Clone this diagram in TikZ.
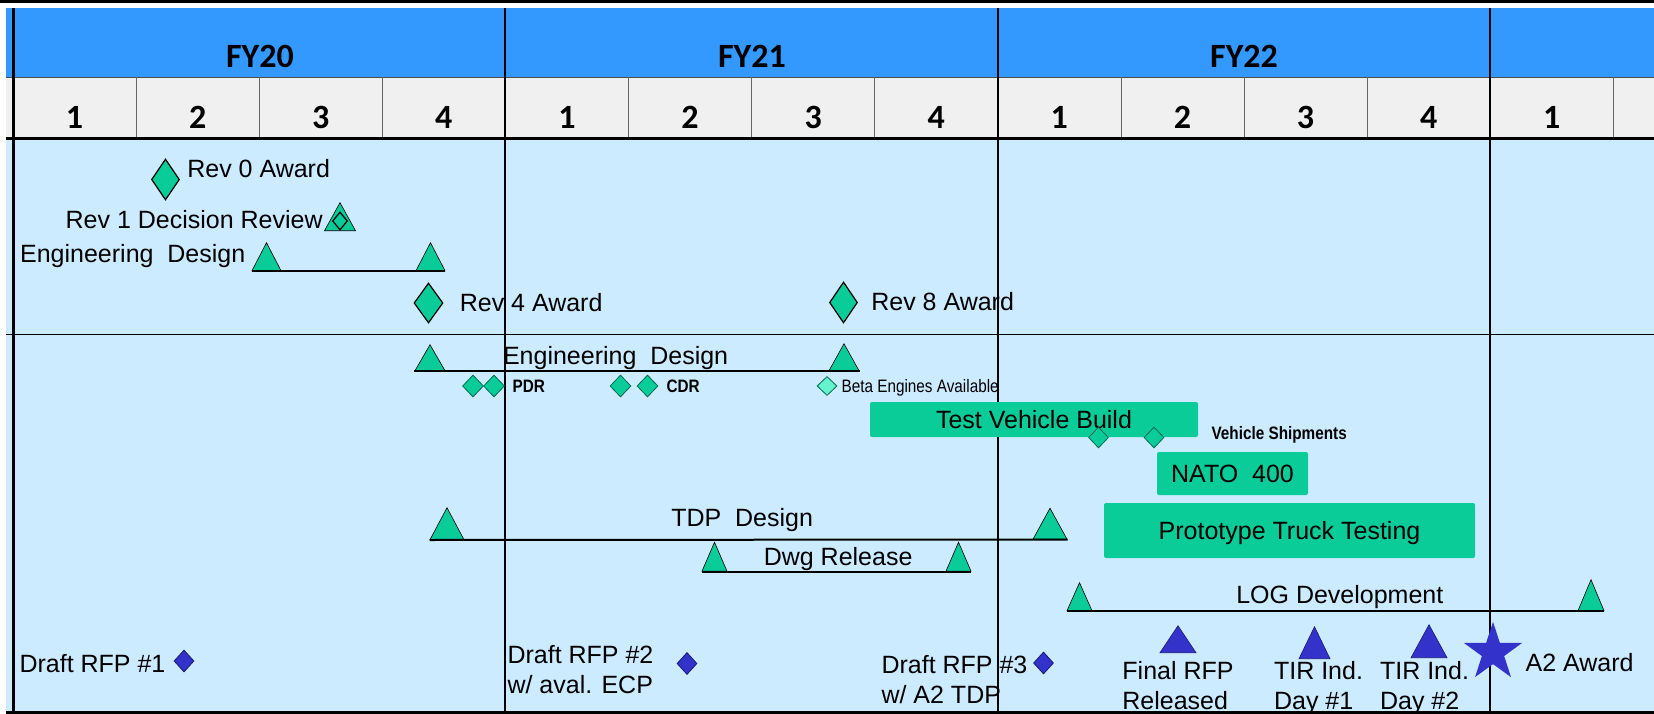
\documentclass[tikz,border=0pt]{standalone}
\usepackage{fontspec}
\setmainfont{Liberation Sans}
\newfontfamily\hdrfont{Carlito}
\newfontfamily\narrowfont[FakeStretch=0.85]{Liberation Sans}
\usetikzlibrary{positioning,shapes.geometric}
\definecolor{HdrClr}{rgb}{0.2,0.6,1}
\definecolor{QtrClr}{rgb}{0.94,0.94,0.94}
\definecolor{BodyClr}{rgb}{0.8,0.92,1}
\definecolor{MarkClr}{rgb}{0.04,0.8,0.6}
\definecolor{EdgeClr}{rgb}{0,0.42,0.32}
\definecolor{BetaClr}{rgb}{0.4,0.95,0.8}
\definecolor{BlueClr}{rgb}{0.2,0.2,0.8}
\definecolor{BlueEdge}{rgb}{0.1,0.1,0.45}

\tikzset{
  lbl/.style={font=\fontsize{25}{30}\selectfont,inner sep=0pt,text height=18pt,text depth=0pt},
  lbltwo/.style={font=\fontsize{25}{30}\selectfont,inner sep=0pt,align=left},
  smalltxt/.style={font=\narrowfont\fontsize{18}{20}\selectfont,inner sep=0pt,text height=13pt,text depth=0pt},
  smallbold/.style={smalltxt,font=\narrowfont\bfseries\fontsize{18}{20}\selectfont},
  hdr/.style={font=\hdrfont\bfseries\fontsize{34}{40}\selectfont,inner sep=0pt,text height=21.5pt,text depth=0pt},
  bigdia/.style={diamond,draw=black,line width=1.2pt,fill=MarkClr,inner sep=0pt,minimum width=28pt,minimum height=41pt},
  innerdia/.style={diamond,draw=black,line width=1.2pt,fill=MarkClr,inner sep=0pt,minimum width=15pt,minimum height=18pt},
  smalldia/.style={diamond,draw=EdgeClr,line width=0.8pt,fill=MarkClr,inner sep=0pt,minimum width=21pt,minimum height=22pt},
  betadia/.style={smalldia,fill=BetaClr,minimum width=20pt,minimum height=19pt},
  bluedia/.style={diamond,draw=BlueEdge,line width=0.8pt,fill=BlueClr,inner sep=0pt,minimum width=20pt,minimum height=22pt},
  tri/.style 2 args={isosceles triangle,isosceles triangle stretches,shape border rotate=90,minimum width=#1,minimum height=#2,draw=black,line width=0.6pt,fill=MarkClr,inner sep=0pt,anchor=lower side},
  bluetri/.style 2 args={tri={#1}{#2},fill=BlueClr,draw=BlueEdge},
  bar/.style 2 args={rectangle,fill=MarkClr,rounded corners=2pt,inner sep=0pt,minimum width=#1,minimum height=#2,font=\fontsize{25}{30}\selectfont,text height=18pt,text depth=0pt},
  conn/.style={line width=2pt,black}
}

\begin{document}
\begin{tikzpicture}[x=1pt,y=-1pt]
\useasboundingbox (0,0) rectangle (1654,714);

\fill[black] (0,0) rectangle (1654,3.5);
\fill[HdrClr] (6,8) rectangle (1654,77);
\fill[QtrClr] (6,77) rectangle (1654,139);
\fill[BodyClr] (6,139) rectangle (1654,712);
\draw[line width=0.8pt,black!70] (6,77) -- (1654,77);
\foreach \k in {1,2,3,5,6,7,9,10,11,13}
  \draw[line width=0.8pt,black!60] ({13+123.1*\k},77) -- ({13+123.1*\k},139);
\draw[line width=3pt] (6,139) -- (1654,139);
\draw[line width=1.5pt] (6,334.5) -- (1654,334.5);
\draw[line width=3pt] (13,8) -- (13,712);
\foreach \k in {4,8,12}
  \draw[line width=2pt] ({13+123.1*\k},8) -- ({13+123.1*\k},712);
\draw[line width=3pt] (6,712) -- (1654,712);

\node[hdr] (fy20) at (260,57) {FY20};
\node[hdr] (fy21) at (752,57) {FY21};
\node[hdr] (fy22) at (1244,57) {FY22};
\foreach \k/\q in {0/1,1/2,2/3,3/4,4/1,5/2,6/3,7/4,8/1,9/2,10/3,11/4,12/1}
  \node[hdr] (qtr\k) at ({13+123.1*(\k+0.5)},117.5) {\q};

\node[bigdia] (rev0) at (165.5,179.5) {};
\node[lbl,right=7pt of rev0,yshift=11pt] (rev0lbl) {Rev 0 Award};

\node[tri={31pt}{28pt}] (rev1t) at (340,231) {};
\node[innerdia] (rev1d) at (340,221) {};
\node[lbl,left=9pt of rev1d,yshift=1pt] (rev1lbl) {Rev 1 Decision Review};

\node[tri={29pt}{28pt}] (edA) at (266.5,271) {};
\node[tri={29pt}{28pt}] (edB) at (430.5,271) {};
\draw[conn] (edA.left corner) -- (edB.right corner);
\node[lbl,left=6pt of edA.left corner,yshift=17.5pt] (edlblA) {Engineering\ \ Design};

\node[bigdia,minimum width=29pt,minimum height=40pt] (rev4) at (428.5,303) {};
\node[lbl,right=16pt of rev4,yshift=0.5pt] (rev4lbl) {Rev 4 Award};
\node[bigdia] (rev8) at (843.5,302.5) {};
\node[lbl,right=13pt of rev8,yshift=1pt] (rev8lbl) {Rev 8 Award};

\node[tri={30pt}{26pt}] (edC) at (430,371) {};
\node[tri={30pt}{27pt}] (edD) at (844,371) {};
\draw[conn] (edC.left corner) -- node[lbl,pos=.452,above=5.5pt] (edlblB) {Engineering\ \ Design} (edD.right corner);

\node[smalldia] (pdrA) at (473,386) {};
\node[smalldia] (pdrB) at (494,386) {};
\node[smallbold,right=7.5pt of pdrB] (pdrlbl) {PDR};
\node[smalldia] (cdrA) at (620.5,386) {};
\node[smalldia] (cdrB) at (647.5,386) {};
\node[smallbold,right=8pt of cdrB] (cdrlbl) {CDR};
\node[betadia] (beta) at (827,386) {};
\node[smalltxt,right=4pt of beta] (betalbl) {Beta Engines Available};

\node[bar={328pt}{35pt}] (tvb) at (1034,419.5) {Test Vehicle Build};
\node[smalldia,minimum width=20pt,minimum height=21pt] (shipA) at (1098.5,437.5) {};
\node[smalldia,minimum width=20pt,minimum height=21pt] (shipB) at (1154,437.5) {};
\node[smallbold,right=47pt of shipB,yshift=4.5pt] (shiplbl) {Vehicle Shipments};
\node[bar={151pt}{43pt}] (nato) at (1232.5,473.5) {NATO\ \ 400};
\node[bar={371pt}{55pt}] (ptt) at (1289.5,530.5) {Prototype Truck Testing};

\node[tri={34pt}{32pt}] (tdpA) at (447,540) {};
\node[tri={34pt}{31pt}] (tdpB) at (1050,539.5) {};
\draw[conn] (tdpA.left corner) -- node[lbl,pos=.49,above=12pt] (tdplbl) {TDP\ \ Design} (tdpB.right corner);

\node[tri={25pt}{29pt}] (dwgA) at (714.5,571.5) {};
\node[tri={25pt}{29pt}] (dwgB) at (958.5,571.5) {};
\draw[conn] (dwgA.left corner) -- node[lbl,pos=.506,above=5.5pt] (dwglbl) {Dwg Release} (dwgB.right corner);

\node[tri={25pt}{28pt}] (logA) at (1079.5,611) {};
\node[tri={26pt}{31pt}] (logB) at (1591,611) {};
\draw[conn] (logA.left corner) -- node[lbl,pos=.508,above=7pt] (loglbl) {LOG Development} (logB.right corner);

\node[bluedia] (rfp1) at (184,661) {};
\node[lbl,left=8pt of rfp1,yshift=-2pt] (rfp1lbl) {Draft RFP \#1};
\node[bluedia] (rfp2) at (687,663.5) {};
\node[lbltwo,left=23pt of rfp2,yshift=-6pt] (rfp2lbl) {Draft RFP \#2\\w/ aval. ECP};
\node[bluedia] (rfp3) at (1043.5,663) {};
\node[lbltwo,left=5.5pt of rfp3,yshift=-17pt] (rfp3lbl) {Draft RFP \#3\\w/ A2 TDP};

\node[bluetri={36pt}{27pt}] (finalT) at (1178,653) {};
\node[lbltwo,below=8pt of finalT.lower side] (finallbl) {Final RFP\\Released};
\node[bluetri={31pt}{32pt}] (tirA) at (1314.5,659) {};
\node[lbltwo,below=2pt of tirA.lower side,xshift=4pt] (tirAlbl) {TIR Ind.\\Day \#1};
\node[bluetri={36pt}{33pt}] (tirB) at (1429,658) {};
\node[lbltwo,below=3pt of tirB.lower side,xshift=-4.5pt] (tirBlbl) {TIR Ind.\\Day \#2};

\node[star,star points=5,star point ratio=2.6,minimum size=61pt,inner sep=0pt,fill=BlueClr] (a2) at (1493,652.4) {};
\node[lbl,right=16pt of a2,yshift=-10pt] (a2lbl) {A2 Award};

\end{tikzpicture}
\end{document}
